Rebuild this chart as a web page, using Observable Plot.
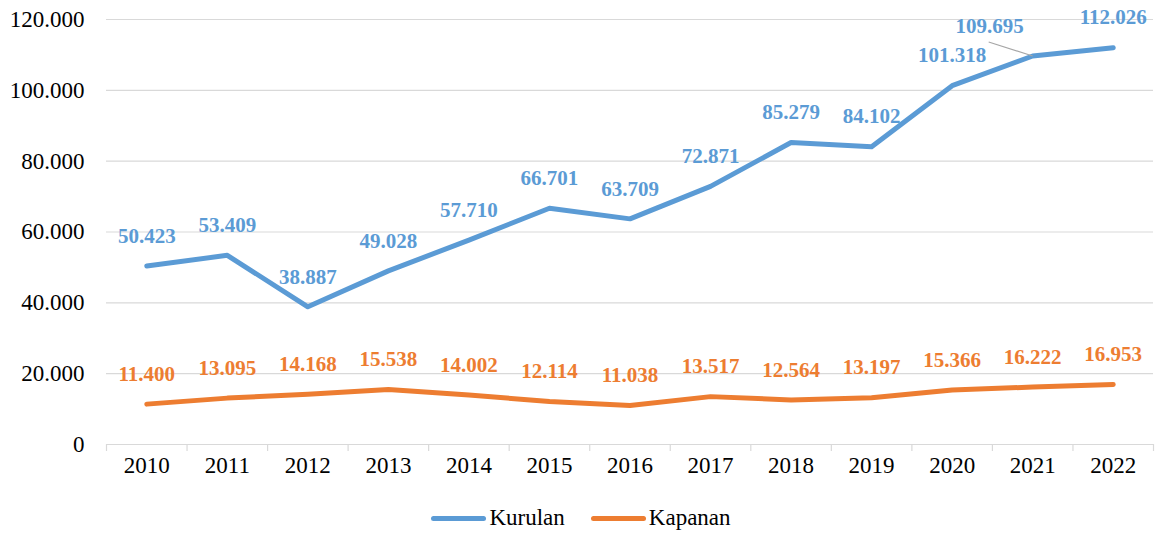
<!DOCTYPE html>
<html>
<head>
<meta charset="utf-8">
<script src="https://cdn.jsdelivr.net/npm/d3@7"></script>
<script src="https://cdn.jsdelivr.net/npm/@observablehq/plot@0.6"></script>
<style>
  html, body { margin: 0; padding: 0; background: #fff; }
  #chart { width: 1162px; }
  .legend { width: 1162px; height: 36px; display: flex; justify-content: center; align-items: center;
    font-family: 'Liberation Serif', 'Times New Roman', serif; font-size: 23px; color: #000; gap: 26px; }
  .legend .item { display: flex; align-items: center; gap: 3px; font-family: 'Liberation Serif', serif; }
  .legend .sw { width: 55px; height: 5px; border-radius: 3px; display: inline-block; }
</style>
</head>
<body>
<div id="chart"></div>
<script>
const years = [2010, 2011, 2012, 2013, 2014, 2015, 2016, 2017, 2018, 2019, 2020, 2021, 2022];
const kurulan = [50423, 53409, 38887, 49028, 57710, 66701, 63709, 72871, 85279, 84102, 101318, 109695, 112026];
const kapanan = [11400, 13095, 14168, 15538, 14002, 12114, 11038, 13517, 12564, 13197, 15366, 16222, 16953];
const seriesNames = ["Kurulan", "Kapanan"];
const seriesColors = ["#5B9BD5", "#ED7D31"];
const yTicks = [0, 20000, 40000, 60000, 80000, 100000, 120000];

const W = 1162, H = 500;
const mL = 106, mR = 9, mT = 19, mB = 56;
const FONT = "'Liberation Serif', 'Times New Roman', serif";

const trLocale = d3.formatLocale({decimal: ",", thousands: ".", grouping: [3], currency: ["", "₺"]});
const fmt = trLocale.format(",d");

const data = [];
years.forEach((yr, i) => {
  data.push({year: yr, value: kurulan[i], series: seriesNames[0]});
  data.push({year: yr, value: kapanan[i], series: seriesNames[1]});
});

// label moved aside with a leader line (Kurulan 2021)
const special = data.filter(d => d.series === "Kurulan" && d.year === 2021);
const normal = data.filter(d => !(d.series === "Kurulan" && d.year === 2021));

const pxPerYear = (W - mL - mR) / years.length;
const pxPerUnit = (H - mT - mB) / 120000;
const leader = special.map(d => ({
  x1: d.year - 44 / pxPerYear, y1: d.value + 14 / pxPerUnit,
  x2: d.year, y2: d.value
}));

const boundaries = d3.range(years.length + 1).map(i => years[0] - 0.5 + i);

const chart = Plot.plot({
  width: W, height: H,
  marginLeft: mL, marginRight: mR, marginTop: mT, marginBottom: mB,
  style: {fontFamily: FONT, fontSize: "23px", color: "#000", background: "#fff", overflow: "visible"},
  x: {domain: [years[0] - 0.5, years[years.length - 1] + 0.5], axis: null},
  y: {domain: [0, 120000], axis: null},
  color: {domain: seriesNames, range: seriesColors},
  marks: [
    Plot.gridY(yTicks, {stroke: "#d9d9d9", strokeOpacity: 1, strokeWidth: 1.2}),
    Plot.axisX(boundaries, {tickSize: 7, tickFormat: () => "", stroke: "#d9d9d9", strokeWidth: 1.2}),
    Plot.axisX(years, {tickSize: 0, tickPadding: 12, tickFormat: d => String(d), fill: "#000", fontFamily: FONT, fontSize: 23}),
    Plot.axisY(yTicks, {tickSize: 0, tickPadding: 22, tickFormat: d => d === 0 ? "0" : fmt(d), fill: "#000", fontFamily: FONT, fontSize: 23}),
    Plot.line(data, {x: "year", y: "value", z: "series", stroke: "series", strokeWidth: 5, strokeLinecap: "round", strokeLinejoin: "round"}),
    Plot.link(leader, {x1: "x1", y1: "y1", x2: "x2", y2: "y2", stroke: "#a6a6a6", strokeWidth: 1.2}),
    Plot.text(normal, {x: "year", y: "value", text: d => fmt(d.value), fill: "series", dy: -30, fontFamily: FONT, fontSize: 21, fontWeight: "bold", lineAnchor: "middle", textAnchor: "middle"}),
    Plot.text(special, {x: "year", y: "value", text: d => fmt(d.value), fill: "series", dx: -43, dy: -30, fontFamily: FONT, fontSize: 21, fontWeight: "bold", lineAnchor: "middle", textAnchor: "middle"})
  ]
});
document.getElementById("chart").appendChild(chart);

const legend = document.createElement("div");
legend.className = "legend";
seriesNames.forEach((name, i) => {
  const item = document.createElement("span");
  item.className = "item";
  const sw = document.createElement("span");
  sw.className = "sw";
  sw.style.background = seriesColors[i];
  const lbl = document.createElement("span");
  lbl.textContent = name;
  item.appendChild(sw);
  item.appendChild(lbl);
  legend.appendChild(item);
});
document.body.appendChild(legend);
</script>
</body>
</html>
